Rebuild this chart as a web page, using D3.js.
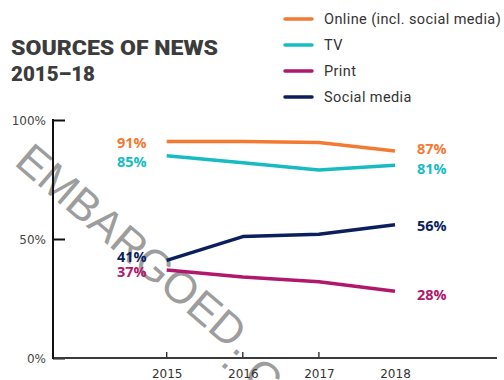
<!DOCTYPE html>
<html><head><meta charset="utf-8">
<script src="https://cdn.jsdelivr.net/npm/d3@7"></script>
<style>
html,body{margin:0;padding:0;background:#fff;}
svg{display:block;}
</style></head>
<body>
<svg id="chart" width="504" height="380"></svg>
<script>
// ---- data ----
const years = [2015, 2016, 2017, 2018];
const seriesNames = ["Online (incl. social media)", "TV", "Print", "Social media"];
const onlineValues = [91, 91, 90.5, 87];
const tvValues = [85, 82, 79, 81];
const printValues = [37, 34, 32, 28];
const socialValues = [41, 51, 52, 56];
const startLabels = ["91%", "85%", "37%", "41%"];
const endLabels = ["87%", "81%", "28%", "56%"];
const yTicks = [0, 50, 100];
const yTickLabels = ["0%", "50%", "100%"];
const xTickYears = [2015, 2016, 2017];

const colors = ["#f37a33", "#17bcc3", "#b0186b", "#0b1f5c"];
// small vertical nudges (px) for end labels to avoid overlaps
const startNudge = [1.5, 6, 1.5, -3];
const endNudge = [-2, 4, 3.5, 1];

const series = seriesNames.map((name, i) => ({
  name, color: colors[i],
  values: [onlineValues, tvValues, printValues, socialValues][i],
  startLabel: startLabels[i], endLabel: endLabels[i],
  sn: startNudge[i], en: endNudge[i]
}));

const svg = d3.select("#chart");
const x = d3.scaleLinear().domain([2015, 2018]).range([166.7, 395]);
const y = d3.scaleLinear().domain([0, 100]).range([358, 120]);
const axisLeftX = 53, axisRightX = 497;

// ---- watermark ----
const wm = svg.append("g").attr("transform", "translate(13,164) rotate(40.6)");
const wmt = wm.append("text")
  .attr("font-family", "Liberation Sans, Arial, sans-serif")
  .attr("font-size", 44).attr("fill", "#9d9d9d");
wmt.append("tspan").text("EMBARGOED.");
wmt.append("tspan").attr("dx", -12).attr("dy", 18).text(".");
wmt.append("tspan").attr("dx", 14).attr("dy", -4).text("C");

// ---- title ----
svg.append("text").attr("x", 11).attr("y", 55)
  .attr("font-family", "Roboto, sans-serif").attr("font-weight", 900)
  .attr("font-size", 21).attr("fill", "#3c3c3c")
  .attr("textLength", 207).attr("lengthAdjust", "spacingAndGlyphs")
  .text("SOURCES OF NEWS");
svg.append("text").attr("x", 11).attr("y", 81)
  .attr("font-family", "Roboto, sans-serif").attr("font-weight", 900)
  .attr("font-size", 21).attr("fill", "#3c3c3c")
  .attr("textLength", 84).attr("lengthAdjust", "spacingAndGlyphs")
  .text("2015–18");

// ---- legend ----
const leg = svg.append("g");
series.forEach((s, i) => {
  const ly = 19 + i * 26;
  leg.append("line").attr("x1", 285).attr("x2", 312).attr("y1", ly).attr("y2", ly)
    .attr("stroke", s.color).attr("stroke-width", 3.5).attr("stroke-linecap", "round");
  leg.append("text").attr("x", 324).attr("y", ly + 5)
    .attr("font-family", "Roboto, sans-serif").attr("font-size", 14.5)
    .attr("letter-spacing", 0.4)
    .attr("fill", "#333").text(s.name);
});

// ---- axes ----
const yAxis = d3.axisLeft(y).tickValues(yTicks)
  .tickFormat((d, i) => yTickLabels[i]).tickSize(-12).tickPadding(7);
const gy = svg.append("g").attr("transform", `translate(${axisLeftX},0)`).call(yAxis);
gy.select(".domain").remove();
gy.selectAll(".tick line").attr("stroke", "#111").attr("stroke-width", 2);
gy.selectAll(".tick text").attr("font-family", "DejaVu Sans, sans-serif")
  .attr("font-size", 12).attr("fill", "#444").attr("dy", "0.68em")
  .attr("x", -7);
gy.selectAll(".tick text").attr("transform", "translate(0,-4)");

const xAxis = d3.axisBottom(x).tickValues(years).tickFormat(d3.format("d"))
  .tickSize(0).tickPadding(11);
const gx = svg.append("g").attr("transform", `translate(0,${y(0)})`).call(xAxis);
gx.select(".domain").remove();
gx.selectAll(".tick text").attr("font-family", "DejaVu Sans, sans-serif")
  .attr("font-size", 12).attr("fill", "#333");
// upward ticks
svg.append("g").selectAll("line").data(xTickYears).join("line")
  .attr("x1", d => x(d)).attr("x2", d => x(d))
  .attr("y1", y(0)).attr("y2", y(0) - 6)
  .attr("stroke", "#222").attr("stroke-width", 1.3);
// axis lines
svg.append("line").attr("x1", axisLeftX).attr("x2", axisRightX)
  .attr("y1", y(0)).attr("y2", y(0)).attr("stroke", "#3a3a3a").attr("stroke-width", 2);
svg.append("line").attr("x1", axisLeftX).attr("x2", axisLeftX)
  .attr("y1", y(100) - 1).attr("y2", y(0) + 1).attr("stroke", "#111").attr("stroke-width", 2);

// ---- lines ----
const line = d3.line().x((d, i) => x(years[i])).y(d => y(d));
svg.append("g").selectAll("path").data(series).join("path")
  .attr("d", s => line(s.values)).attr("fill", "none")
  .attr("stroke", s => s.color).attr("stroke-width", 3.5)
  .attr("stroke-linejoin", "round");

// ---- value labels ----
const lab = svg.append("g").attr("font-family", "Open Sans, sans-serif")
  .attr("font-weight", 700).attr("font-size", 14.5);
lab.selectAll("text.start").data(series).join("text").attr("class", "start")
  .attr("x", x(2015) - 20).attr("y", s => y(s.values[0]) + s.sn)
  .attr("dy", "0.35em").attr("text-anchor", "end").attr("fill", s => s.color)
  .text(s => s.startLabel);
lab.selectAll("text.end").data(series).join("text").attr("class", "end")
  .attr("x", x(2018) + 22).attr("y", s => y(s.values[3]) + s.en)
  .attr("dy", "0.35em").attr("fill", s => s.color)
  .text(s => s.endLabel);
</script>
</body></html>
